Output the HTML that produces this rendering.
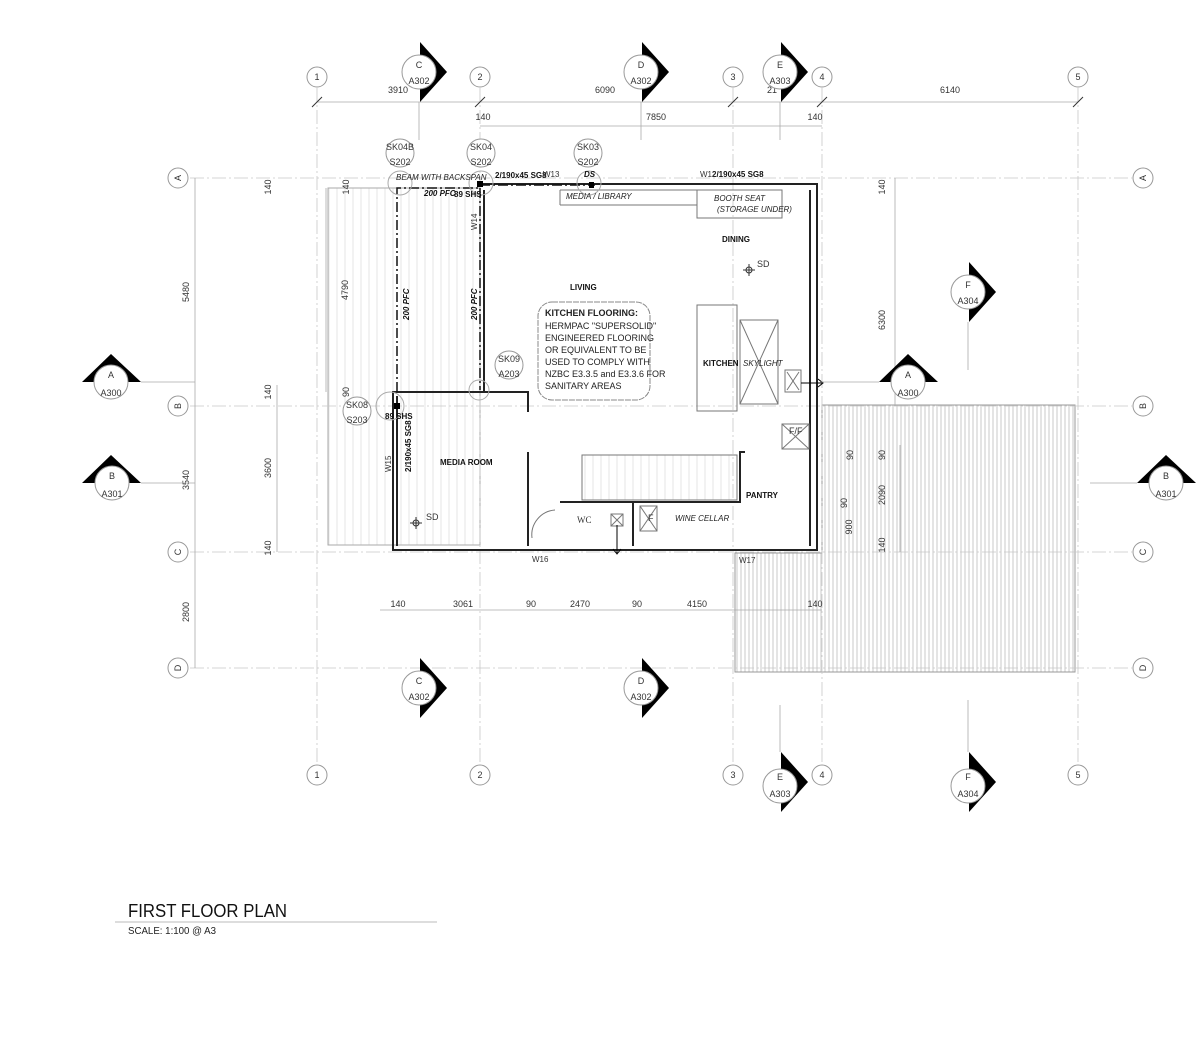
<!DOCTYPE html>
<html><head><meta charset="utf-8"><style>
html,body{margin:0;padding:0;background:#fff;}
svg{display:block;font-family:"Liberation Sans",Arial,sans-serif;}
.g{stroke:#c8c8c8;stroke-width:0.8;fill:none;stroke-dasharray:14 3 2 3;}
.d{stroke:#aaa;stroke-width:0.8;fill:none;}
.w{stroke:#222;stroke-width:2;fill:none;}
.t{font-size:9px;fill:#333;}
.b{font-size:8px;font-weight:bold;fill:#111;}
.i{font-size:8px;font-style:italic;fill:#222;}
</style></head><body>
<svg width="1200" height="1061" viewBox="0 0 1200 1061" xmlns="http://www.w3.org/2000/svg">
<defs>
<pattern id="h" width="4" height="10" patternUnits="userSpaceOnUse"><line x1="1" y1="0" x2="1" y2="10" stroke="#bbb" stroke-width="0.8"/></pattern>
<pattern id="h2" width="8" height="10" patternUnits="userSpaceOnUse"><line x1="1" y1="0" x2="1" y2="10" stroke="#e0e0e0" stroke-width="0.8"/></pattern>
</defs>
<rect width="1200" height="1061" fill="#fff"/>

<rect x="328" y="188" width="152" height="357" fill="url(#h2)" stroke="#aaa"/>
<polygon points="822,405 1075,405 1075,672 735,672 735,553 822,553" fill="url(#h)" stroke="#999"/>

<g class="g">
<line x1="317" y1="88" x2="317" y2="765"/><line x1="480" y1="88" x2="480" y2="765"/>
<line x1="733" y1="88" x2="733" y2="765"/><line x1="822" y1="88" x2="822" y2="765"/>
<line x1="1078" y1="88" x2="1078" y2="765"/>
<line x1="190" y1="178" x2="1132" y2="178"/><line x1="190" y1="406" x2="1132" y2="406"/>
<line x1="190" y1="552" x2="1132" y2="552"/><line x1="190" y1="668" x2="1132" y2="668"/>
</g>
<g fill="#fff" stroke="#999">
<circle cx="317" cy="77" r="10"/><circle cx="480" cy="77" r="10"/><circle cx="733" cy="77" r="10"/><circle cx="822" cy="77" r="10"/><circle cx="1078" cy="77" r="10"/>
<circle cx="317" cy="775" r="10"/><circle cx="480" cy="775" r="10"/><circle cx="733" cy="775" r="10"/><circle cx="822" cy="775" r="10"/><circle cx="1078" cy="775" r="10"/>
<circle cx="178" cy="178" r="10"/><circle cx="178" cy="406" r="10"/><circle cx="178" cy="552" r="10"/><circle cx="178" cy="668" r="10"/>
<circle cx="1143" cy="178" r="10"/><circle cx="1143" cy="406" r="10"/><circle cx="1143" cy="552" r="10"/><circle cx="1143" cy="668" r="10"/>
</g>
<g class="t" text-anchor="middle">
<text x="317" y="80">1</text><text x="480" y="80">2</text><text x="733" y="80">3</text><text x="822" y="80">4</text><text x="1078" y="80">5</text>
<text x="317" y="778">1</text><text x="480" y="778">2</text><text x="733" y="778">3</text><text x="822" y="778">4</text><text x="1078" y="778">5</text>
<text transform="translate(181,178) rotate(-90)">A</text><text transform="translate(181,406) rotate(-90)">B</text><text transform="translate(181,552) rotate(-90)">C</text><text transform="translate(181,668) rotate(-90)">D</text>
<text transform="translate(1146,178) rotate(-90)">A</text><text transform="translate(1146,406) rotate(-90)">B</text><text transform="translate(1146,552) rotate(-90)">C</text><text transform="translate(1146,668) rotate(-90)">D</text>
</g>

<g class="d">
<line x1="317" y1="102" x2="1078" y2="102"/><line x1="480" y1="126" x2="822" y2="126"/>
<line x1="195" y1="178" x2="195" y2="668"/><line x1="277" y1="385" x2="277" y2="552"/>
<line x1="895" y1="178" x2="895" y2="406"/><line x1="900" y1="445" x2="900" y2="552"/>
<line x1="380" y1="610" x2="822" y2="610"/>
<line x1="326" y1="188" x2="326" y2="392"/>
</g>
<g stroke="#333" stroke-width="1">
<line x1="312" y1="107" x2="322" y2="97"/><line x1="475" y1="107" x2="485" y2="97"/><line x1="728" y1="107" x2="738" y2="97"/><line x1="817" y1="107" x2="827" y2="97"/><line x1="1073" y1="107" x2="1083" y2="97"/>
</g>
<g class="t" text-anchor="middle">
<text x="398" y="93">3910</text><text x="605" y="93">6090</text><text x="772" y="93">21</text><text x="950" y="93">6140</text>
<text x="483" y="120">140</text><text x="656" y="120">7850</text><text x="815" y="120">140</text>
<text x="398" y="607">140</text><text x="463" y="607">3061</text><text x="531" y="607">90</text><text x="580" y="607">2470</text><text x="637" y="607">90</text><text x="697" y="607">4150</text><text x="815" y="607">140</text>
<text transform="translate(189,292) rotate(-90)">5480</text><text transform="translate(189,480) rotate(-90)">3540</text><text transform="translate(189,612) rotate(-90)">2800</text>
<text transform="translate(271,187) rotate(-90)">140</text><text transform="translate(271,392) rotate(-90)">140</text><text transform="translate(271,468) rotate(-90)">3600</text><text transform="translate(271,548) rotate(-90)">140</text>
<text transform="translate(349,187) rotate(-90)">140</text><text transform="translate(348,290) rotate(-90)">4790</text><text transform="translate(349,392) rotate(-90)">90</text>
<text transform="translate(885,187) rotate(-90)">140</text><text transform="translate(885,320) rotate(-90)">6300</text>
<text transform="translate(853,455) rotate(-90)">90</text><text transform="translate(885,455) rotate(-90)">90</text><text transform="translate(847,503) rotate(-90)">90</text><text transform="translate(852,527) rotate(-90)">900</text><text transform="translate(885,495) rotate(-90)">2090</text><text transform="translate(885,545) rotate(-90)">140</text>
</g>

<g class="w">
<polyline points="480,184 817,184 817,550 393,550 393,392 528,392 528,412"/>
<line x1="484" y1="190" x2="484" y2="392"/>
<polyline points="397,396 397,546"/>
<line x1="528" y1="452" x2="528" y2="546"/>
<polyline points="560,502 740,502 740,452 745,452"/>
<line x1="810" y1="190" x2="810" y2="546"/>
<line x1="633" y1="502" x2="633" y2="546"/>
</g>
<g stroke="#777" fill="none" stroke-width="1">
<line x1="560" y1="190" x2="697" y2="190"/><line x1="560" y1="190" x2="560" y2="205"/><line x1="560" y1="205" x2="697" y2="205"/>
<rect x="697" y="190" width="85" height="28"/>
<rect x="697" y="305" width="40" height="106"/>
<rect x="740" y="320" width="38" height="84"/><line x1="740" y1="320" x2="778" y2="404"/><line x1="778" y1="320" x2="740" y2="404"/>
<rect x="782" y="424" width="27" height="25"/><line x1="782" y1="424" x2="809" y2="449"/><line x1="809" y1="424" x2="782" y2="449"/>
<rect x="785" y="370" width="16" height="22"/><line x1="787" y1="372" x2="799" y2="390"/><line x1="799" y1="372" x2="787" y2="390"/>
<rect x="582" y="455" width="155" height="45" fill="url(#h2)"/>
<rect x="640" y="506" width="17" height="25"/><line x1="640" y1="506" x2="657" y2="531"/><line x1="657" y1="506" x2="640" y2="531"/>
<rect x="611" y="514" width="12" height="12"/><line x1="611" y1="514" x2="623" y2="526"/><line x1="623" y1="514" x2="611" y2="526"/>
<path d="M532 538 A 25 25 0 0 1 555 510"/>
</g>
<g stroke="#111" stroke-width="1.5" fill="none" stroke-dasharray="10 3 2 3">
<polyline points="397,392 397,188 480,188"/><line x1="480" y1="185" x2="595" y2="185"/><line x1="480" y1="188" x2="480" y2="390"/>
</g>
<rect x="477" y="181" width="6" height="6" fill="#000"/><rect x="589" y="182" width="5" height="6" fill="#000"/><rect x="394" y="403" width="6" height="6" fill="#000"/>
<line x1="801" y1="383" x2="822" y2="383" stroke="#000"/><path d="M818 379 L823 383 L818 387" fill="none" stroke="#000"/>
<line x1="617" y1="525" x2="617" y2="553" stroke="#000"/><path d="M613 549 L617 554 L621 549" fill="none" stroke="#000"/>

<g fill="#fff" stroke="#999">
<circle cx="400" cy="153" r="14"/><circle cx="481" cy="153" r="14"/><circle cx="588" cy="153" r="14"/>
<circle cx="357" cy="411" r="14"/><circle cx="509" cy="365" r="14"/>
</g>
<g fill="none" stroke="#aaa"><circle cx="400" cy="183" r="12"/><circle cx="481" cy="183" r="12"/><circle cx="589" cy="183" r="12"/><circle cx="390" cy="406" r="14"/><circle cx="479" cy="390" r="10"/></g>
<g class="t" text-anchor="middle">
<text x="400" y="150">SK04B</text><text x="400" y="165">S202</text>
<text x="481" y="150">SK04</text><text x="481" y="165">S202</text>
<text x="588" y="150">SK03</text><text x="588" y="165">S202</text>
<text x="357" y="408">SK08</text><text x="357" y="423">S203</text>
<text x="509" y="362">SK09</text><text x="509" y="377">A203</text>
</g>

<g>
<path d="M420 42 L447 72 L420 102Z"/><circle cx="419" cy="72" r="17" fill="#fff" stroke="#999"/>
<path d="M642 42 L669 72 L642 102Z"/><circle cx="641" cy="72" r="17" fill="#fff" stroke="#999"/>
<path d="M781 42 L808 72 L781 102Z"/><circle cx="780" cy="72" r="17" fill="#fff" stroke="#999"/>
<path d="M969 262 L996 292 L969 322Z"/><circle cx="968" cy="292" r="17" fill="#fff" stroke="#999"/>
<path d="M420 658 L447 688 L420 718Z"/><circle cx="419" cy="688" r="17" fill="#fff" stroke="#999"/>
<path d="M642 658 L669 688 L642 718Z"/><circle cx="641" cy="688" r="17" fill="#fff" stroke="#999"/>
<path d="M781 752 L808 782 L781 812Z"/><circle cx="780" cy="786" r="17" fill="#fff" stroke="#999"/>
<path d="M969 752 L996 782 L969 812Z"/><circle cx="968" cy="786" r="17" fill="#fff" stroke="#999"/>
<path d="M82 382 L111 354 L141 382Z"/><circle cx="111" cy="382" r="17" fill="#fff" stroke="#999"/>
<path d="M82 483 L111 455 L141 483Z"/><circle cx="112" cy="483" r="17" fill="#fff" stroke="#999"/>
<path d="M879 382 L908 354 L938 382Z"/><circle cx="908" cy="382" r="17" fill="#fff" stroke="#999"/>
<path d="M1137 483 L1166 455 L1196 483Z"/><circle cx="1166" cy="483" r="17" fill="#fff" stroke="#999"/>
</g>
<g class="d"><line x1="141" y1="382" x2="195" y2="382"/><line x1="141" y1="483" x2="195" y2="483"/><line x1="1090" y1="483" x2="1137" y2="483"/><line x1="820" y1="382" x2="879" y2="382"/>
<line x1="419" y1="102" x2="419" y2="140"/><line x1="641" y1="102" x2="641" y2="140"/><line x1="780" y1="102" x2="780" y2="140"/><line x1="968" y1="322" x2="968" y2="370"/><line x1="968" y1="700" x2="968" y2="752"/><line x1="780" y1="705" x2="780" y2="752"/></g>
<g class="t" text-anchor="middle">
<text x="419" y="68">C</text><text x="419" y="84">A302</text>
<text x="641" y="68">D</text><text x="641" y="84">A302</text>
<text x="780" y="68">E</text><text x="780" y="84">A303</text>
<text x="968" y="288">F</text><text x="968" y="304">A304</text>
<text x="419" y="684">C</text><text x="419" y="700">A302</text>
<text x="641" y="684">D</text><text x="641" y="700">A302</text>
<text x="780" y="780">E</text><text x="780" y="797">A303</text>
<text x="968" y="780">F</text><text x="968" y="797">A304</text>
<text x="111" y="378">A</text><text x="111" y="396">A300</text>
<text x="112" y="479">B</text><text x="112" y="497">A301</text>
<text x="908" y="378">A</text><text x="908" y="396">A300</text>
<text x="1166" y="479">B</text><text x="1166" y="497">A301</text>
</g>

<rect x="538" y="302" width="112" height="98" rx="14" fill="#fff" stroke="#888" stroke-dasharray="6 1"/>
<g font-size="9" fill="#222">
<text x="545" y="316" font-weight="bold">KITCHEN FLOORING:</text>
<text x="545" y="329">HERMPAC "SUPERSOLID"</text>
<text x="545" y="341">ENGINEERED FLOORING</text>
<text x="545" y="353">OR EQUIVALENT TO BE</text>
<text x="545" y="365">USED TO COMPLY WITH</text>
<text x="545" y="377">NZBC E3.3.5 and E3.3.6 FOR</text>
<text x="545" y="389">SANITARY AREAS</text>
</g>

<g class="b">
<text x="570" y="290">LIVING</text><text x="722" y="242">DINING</text><text x="703" y="366">KITCHEN</text>
<text x="440" y="465">MEDIA ROOM</text><text x="746" y="498">PANTRY</text>
<text x="495" y="178">2/190x45 SG8</text><text x="712" y="177">2/190x45 SG8</text>
<text x="424" y="196" font-style="italic">200 PFC</text><text x="454" y="197">89 SHS</text>
<text x="385" y="419">89 SHS</text><text x="584" y="177" font-style="italic">DS</text>
<text transform="translate(409,320) rotate(-90)" font-style="italic">200 PFC</text>
<text transform="translate(477,320) rotate(-90)" font-style="italic">200 PFC</text>
<text transform="translate(411,472) rotate(-90)">2/190x45 SG8</text>
</g>
<g class="i">
<text x="396" y="180">BEAM WITH BACKSPAN</text>
<text x="566" y="199">MEDIA / LIBRARY</text>
<text x="714" y="201">BOOTH SEAT</text><text x="717" y="212">(STORAGE UNDER)</text>
<text x="743" y="366">SKYLIGHT</text><text x="675" y="521">WINE CELLAR</text>
</g>
<g class="t">
<text x="543" y="177" font-size="8">W13</text><text x="700" y="177" font-size="8">W12</text>
<text x="532" y="562" font-size="8">W16</text><text x="739" y="563" font-size="8">W17</text>
<text transform="translate(477,230) rotate(-90)" font-size="8">W14</text>
<text transform="translate(391,472) rotate(-90)" font-size="8">W15</text>
<text x="789" y="434">F/F</text><text x="648" y="521">F</text>
<text x="577" y="523" font-family="Liberation Serif">WC</text>
<text x="757" y="267">SD</text><text x="426" y="520">SD</text>
</g>
<g stroke="#333" fill="none"><circle cx="749" cy="270" r="3"/><line x1="743" y1="270" x2="755" y2="270"/><line x1="749" y1="264" x2="749" y2="276"/>
<circle cx="416" cy="523" r="3"/><line x1="410" y1="523" x2="422" y2="523"/><line x1="416" y1="517" x2="416" y2="529"/></g>

<text x="128" y="917" font-size="18" fill="#111" textLength="159" lengthAdjust="spacingAndGlyphs">FIRST FLOOR PLAN</text>
<line x1="115" y1="922" x2="437" y2="922" stroke="#bbb"/>
<text x="128" y="934" font-size="10" fill="#222" textLength="88" lengthAdjust="spacingAndGlyphs">SCALE: 1:100 @ A3</text>
</svg>
</body></html>
